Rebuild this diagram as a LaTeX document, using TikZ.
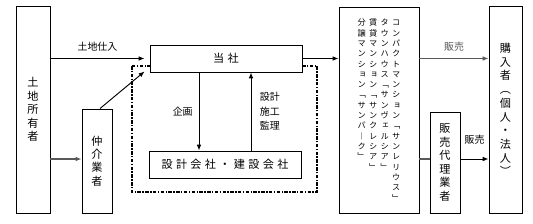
\documentclass[tikz,border=0pt]{standalone}
\usepackage{fontspec}
\newfontfamily\jp{Noto Sans CJK JP}
\newfontfamily\jpv[RawFeature=+vert]{Noto Sans CJK JP}
\newfontfamily\jpsp[LetterSpace=30]{Noto Sans CJK JP}
\usetikzlibrary{positioning, arrows.meta, calc}

% vertical (tategaki) text: one character per line
\makeatletter
\newcommand\tate[2][11.5pt]{\vtop{\baselineskip=#1\lineskiplimit=-\maxdimen
  \@tfor\tate@c:=#2\do{\hbox to 1em{\hss\tate@c\hss}}}}
\makeatother

\begin{document}
\begin{tikzpicture}[
                x=0.03cm, y=-0.03cm,
                box/.style={draw, fill=white, line width=0.8pt, inner sep=0pt, font=\jpv\fontsize{9.5}{11}\selectfont},
                wide/.style={box, minimum width=4.56cm, minimum height=0.81cm, font=\jpsp\fontsize{9.5}{11}\selectfont},
                lbl/.style={inner sep=1pt, font=\jp\fontsize{8.5}{10}\selectfont},
                arr/.style={-{Latex[length=5pt,width=4pt]}, line width=0.8pt},
                garr/.style={arr, black!65, line width=1.1pt}
            ]
                \useasboundingbox (0,0) rectangle (533,223);

                % Dashed frame
                \draw[line width=1.3pt, dash pattern=on 3pt off 1.2pt on 1.2pt off 1.2pt] (132,66) rectangle (317,192);

                % Nodes
                \node[box, minimum width=1.02cm, minimum height=6.21cm] (owner) at (33,109.5) {\tate{土地所有者}};
                \node[box, minimum width=0.9cm, minimum height=3.12cm] (broker) at (97,161) {\tate{仲介業者}};
                \node[wide] (tousha) at (226,58.5) {当社};
                \node[wide] (builder) at (225,164.5) {設計会社・建設会社};
                \node[box, minimum width=2.4cm, minimum height=6.18cm, font=\jpv\fontsize{7}{8}\selectfont] (brand) at (379,110)
                    {\tate[8.8pt]{分譲マンション﹁サンパ︱ク﹂}\hspace{2.8pt}%
                     \tate[8.8pt]{賃貸マンション﹁サンクレシア﹂}\hspace{2.8pt}%
                     \tate[8.8pt]{タウンハウス﹁サンヴェルシア﹂}\hspace{2.8pt}%
                     \tate[8.8pt]{コンパクトマンション﹁サンレリウス﹂}};
                \node[box, minimum width=0.9cm, minimum height=3.03cm] (agent) at (445,162.5) {\tate{販売代理業者}};
                \node[box, minimum width=0.99cm, minimum height=6.21cm] (buyer) at (505.5,109.5) {\tate[11.7pt]{購入者︵個人・法人︶}};

                \coordinate (lowrow) at (0,159);
                \coordinate (tip) at ([xshift=-0.15cm, yshift=0.03cm]tousha.south west);

                % Land purchase
                \draw[arr] (owner.east |- tousha.west) -- ([xshift=-0.15cm]tousha.west)
                    node[lbl, midway, above=0.17cm] {土地仕入};
                \draw[garr] (owner.east |- lowrow) -- (broker.west |- lowrow);
                \draw[arr] ([xshift=0.09cm]broker.north) -- (tip);

                % Planning / construction
                \draw[arr] ([xshift=-0.81cm]tousha.south) -- ([xshift=-0.81cm]tousha.south |- builder.north)
                    node[lbl, midway, left=4pt] {企画};
                \draw[arr] ([xshift=0.78cm]builder.north) -- ([xshift=0.78cm]builder.north |- tousha.south)
                    node[lbl, midway, right=0.22cm, align=left, font=\jp\fontsize{8.5}{12.3}\selectfont] {設計\\施工\\監理};

                % Sales
                \draw[arr] (tousha.east) -- (brand.west |- tousha.east);
                \draw[garr] (brand.east |- tousha.east) -- (buyer.west |- tousha.east)
                    node[lbl, midway, above=0.17cm] {販売};
                \draw[line width=1.1pt, black!65] (brand.east |- lowrow) -- (agent.west |- lowrow);
                \draw[arr] (agent.east |- lowrow) -- (buyer.west |- lowrow)
                    node[lbl, midway, above=0.4cm] {販売};
            \end{tikzpicture}
\end{document}
